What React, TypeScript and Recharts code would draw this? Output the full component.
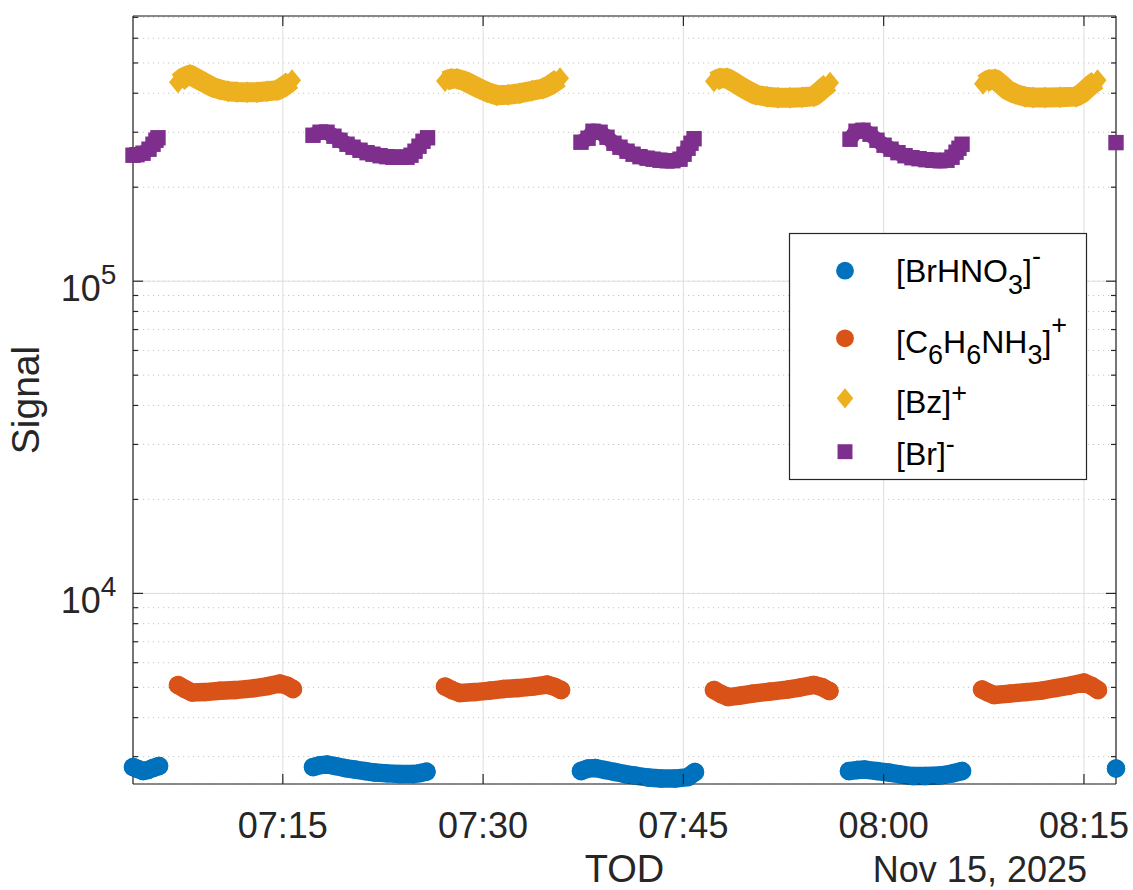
import React from 'react';
import { ComposedChart, Line, XAxis, YAxis, CartesianGrid, Legend } from 'recharts';

// Time of day in minutes after 07:00, signal in counts. Nov 15, 2025.
const brHNO3Segments: [number, number][][] = [
  [[3.78, 2778], [4.15, 2738], [4.53, 2698], [4.9, 2718], [5.28, 2758], [5.73, 2799]],
  [[17.26, 2778], [17.79, 2819], [18.31, 2830], [18.91, 2799], [19.66, 2758], [20.41, 2728], [21.16, 2698], [21.9, 2668], [22.8, 2652], [23.78, 2639], [24.75, 2639], [25.28, 2658], [25.76, 2684]],
  [[37.33, 2698], [37.86, 2748], [38.38, 2758], [39.13, 2718], [39.88, 2678], [40.63, 2639], [41.38, 2610], [42.35, 2572], [43.32, 2553], [44.37, 2553], [45.35, 2581], [45.87, 2678]],
  [[57.4, 2698], [58.0, 2718], [58.6, 2728], [59.5, 2698], [60.4, 2668], [61.3, 2629], [62.2, 2600], [63.1, 2600], [64.22, 2610], [65.12, 2649], [65.87, 2698]],
  [[77.4, 2748]],
];

const anilineSegments: [number, number][][] = [
  [[7.15, 5086], [7.67, 4939], [8.2, 4814], [9.17, 4831], [10.3, 4878], [11.42, 4903], [12.77, 4965], [13.89, 5049], [14.79, 5143], [15.31, 5067], [15.76, 4939]],
  [[27.15, 5030], [27.67, 4903], [28.27, 4796], [29.39, 4831], [30.52, 4885], [31.49, 4939], [32.61, 4976], [33.74, 5030], [34.79, 5105], [35.31, 5030], [35.84, 4903]],
  [[47.29, 4903], [47.82, 4761], [48.34, 4657], [49.24, 4708], [50.21, 4778], [51.49, 4849], [52.76, 4917], [53.73, 4994], [54.78, 5094], [55.38, 5012], [55.94, 4867]],
  [[67.37, 4921], [67.82, 4814], [68.26, 4726], [69.46, 4778], [70.66, 4831], [71.86, 4885], [72.91, 4976], [73.96, 5067], [75.01, 5181], [75.53, 5067], [76.05, 4903]],
];

const benzeneSegments: [number, number][][] = [
  [[7.15, 433800], [7.6, 450000], [8.05, 458400], [8.65, 443400], [9.25, 429600], [9.77, 418100], [10.3, 411100], [10.9, 406000], [11.57, 403900], [12.32, 403000], [13.07, 403000], [13.82, 406000], [14.57, 409000], [14.94, 416600], [15.31, 427400], [15.69, 440200]],
  [[27.15, 437900], [27.6, 445000], [28.05, 445000], [28.65, 436900], [29.24, 424300], [29.77, 413500], [30.29, 403900], [31.04, 394200], [31.87, 395600], [32.76, 400000], [33.66, 407500], [34.49, 414100], [35.01, 424300], [35.39, 435400], [35.76, 446700]],
  [[47.29, 436900], [47.74, 446700], [48.27, 446700], [48.79, 433800], [49.39, 418100], [49.92, 406000], [50.44, 395600], [51.26, 389800], [52.09, 387000], [52.99, 387000], [53.89, 388400], [54.78, 391300], [55.16, 403000], [55.53, 416600], [55.98, 432200]],
  [[67.44, 428700], [67.89, 441800], [68.34, 443400], [68.79, 427400], [69.24, 410500], [69.84, 398500], [70.59, 389800], [71.19, 387600], [72.08, 387600], [73.21, 388400], [74.41, 390100], [74.86, 400000], [75.23, 413500], [75.6, 427400], [76.02, 440200]],
];

const bromideSegments: [number, number][][] = [
  [[3.78, 253200], [4.08, 254200], [4.53, 257000], [4.98, 264700], [5.28, 274600], [5.5, 282800], [5.65, 288000]],
  [[17.26, 293400], [17.79, 300000], [18.31, 300000], [18.83, 291300], [19.28, 282800], [19.81, 274600], [20.26, 268600], [20.78, 262700], [21.31, 258000], [21.75, 255100], [22.28, 252300], [22.8, 250500], [23.25, 249500], [23.78, 249500], [24.3, 249500], [24.6, 253200], [24.9, 260800], [25.2, 270600], [25.5, 280700], [25.84, 288000]],
  [[37.33, 278700], [37.86, 287000], [38.23, 302200], [38.76, 300000], [39.28, 289100], [39.8, 276600], [40.25, 268600], [40.78, 260800], [41.23, 255100], [41.75, 250500], [42.28, 247700], [42.73, 245900], [43.25, 244000], [43.77, 243200], [44.22, 243200], [44.75, 245900], [45.05, 255100], [45.35, 266600], [45.57, 276600], [45.8, 286000]],
  [[57.48, 284900], [57.93, 302200], [58.45, 304400], [58.98, 295600], [59.5, 282800], [60.03, 272600], [60.55, 264700], [61.07, 258000], [61.6, 252300], [62.12, 248600], [62.65, 246800], [63.17, 245000], [63.7, 244000], [64.22, 243200], [64.74, 244000], [65.12, 249500], [65.42, 258900], [65.64, 266600], [65.87, 274600]],
  [[77.4, 277900]],
];

const xDomain: [number, number] = [3.78, 77.4];
const yDomain: [number, number] = [2452, 707000];
const xTicks = [15, 30, 45, 60, 75];
const yMajorTicks = [10000, 100000];
const yMinorTicks = [3000, 4000, 5000, 6000, 7000, 8000, 9000, 20000, 30000, 40000, 50000, 60000, 70000, 80000, 90000, 200000, 300000, 400000, 500000, 600000, 700000];
const yAllTicks = [...yMinorTicks, ...yMajorTicks].sort((a, b) => a - b);
const xLabel = 'TOD';
const dateLabel = 'Nov 15, 2025';
const yLabel = 'Signal';

const FONT = "'Liberation Sans', Arial, Helvetica, sans-serif";
const AX = '#262626';
const C_BLUE = '#0072BD';
const C_ORANGE = '#D95319';
const C_YELLOW = '#EDB120';
const C_PURPLE = '#7E2F8E';

const toLineData = (segs: [number, number][][]) => {
  const out: { t: number; v: number | null }[] = [];
  segs.forEach((seg, i) => {
    if (i > 0) {
      const prev = segs[i - 1];
      out.push({ t: (prev[prev.length - 1][0] + seg[0][0]) / 2, v: null });
    }
    seg.forEach(([t, v]) => out.push({ t, v }));
  });
  return out;
};

const fmtTOD = (m: number) => {
  const h = 7 + Math.floor(m / 60);
  const mm = Math.round(m % 60);
  return `${String(h).padStart(2, '0')}:${String(mm).padStart(2, '0')}`;
};

type Shape = 'circle' | 'square' | 'diamond';

const drawMarker = (shape: Shape, cx: number, cy: number, color: string, key?: string, scale = 1) => {
  if (shape === 'circle') return <circle key={key} cx={cx} cy={cy} r={9.2 * scale} fill={color} />;
  if (shape === 'square') {
    const h = 7.7 * scale;
    return <rect key={key} x={cx - h} y={cy - h} width={2 * h} height={2 * h} fill={color} />;
  }
  const hh = 11 * scale;
  const hw = 9 * scale;
  return (
    <polygon
      key={key}
      points={`${cx},${cy - hh} ${cx + hw},${cy} ${cx},${cy + hh} ${cx - hw},${cy}`}
      fill={color}
    />
  );
};

const makeDot = (shape: Shape, color: string) => (p: any) => {
  const { cx, cy, index } = p;
  if (cx == null || cy == null || Number.isNaN(cx) || Number.isNaN(cy)) return <g key={`e-${index}`} />;
  return drawMarker(shape, cx, cy, color, `d-${index}`);
};

const LeftTick = (props: any) => {
  const { x, y, payload } = props;
  const v = payload.value;
  const major = yMajorTicks.includes(v);
  const exp = Math.round(Math.log10(v));
  return (
    <g>
      <line x1={x} y1={y} x2={x + (major ? 10 : 5)} y2={y} stroke={AX} strokeWidth={1.2} />
      {major && (
        <g fontFamily={FONT} fill={AX}>
          <text x={x - 32.3} y={y + 19.5} fontSize={36} textAnchor="end">10</text>
          <text x={x - 32.3} y={y + 3} fontSize={28} textAnchor="start">{exp}</text>
        </g>
      )}
    </g>
  );
};

const RightTick = (props: any) => {
  const { x, y, payload } = props;
  const major = yMajorTicks.includes(payload.value);
  return <line x1={x} y1={y} x2={x - (major ? 10 : 5)} y2={y} stroke={AX} strokeWidth={1.2} />;
};

const BottomTick = (props: any) => {
  const { x, y, payload } = props;
  return (
    <g>
      <line x1={x} y1={y} x2={x} y2={y - 10} stroke={AX} strokeWidth={1.2} />
      <text x={x} y={y + 53.5} textAnchor="middle" fontSize={36} fontFamily={FONT} fill={AX}>
        {fmtTOD(payload.value)}
      </text>
    </g>
  );
};

const TopTick = (props: any) => {
  const { x, y } = props;
  return <line x1={x} y1={y} x2={x} y2={y + 10} stroke={AX} strokeWidth={1.2} />;
};

const XTitle = (props: any) => {
  const vb = props.viewBox || { x: 133, y: 784, width: 983, height: 106 };
  return (
    <g fontFamily={FONT} fill={AX}>
      <text x={vb.x + vb.width / 2} y={vb.y + 98} textAnchor="middle" fontSize={38}>{xLabel}</text>
      <text x={vb.x + vb.width - 29} y={vb.y + 98} textAnchor="end" fontSize={36}>{dateLabel}</text>
    </g>
  );
};

const YTitle = (props: any) => {
  const vb = props.viewBox || { x: 0, y: 16, width: 133, height: 768 };
  const cx = 39;
  const cy = vb.y + vb.height / 2;
  return (
    <text
      x={cx}
      y={cy}
      textAnchor="middle"
      fontSize={39}
      fontFamily={FONT}
      fill={AX}
      transform={`rotate(-90, ${cx}, ${cy})`}
    >
      {yLabel}
    </text>
  );
};

const LegendContent = () => {
  const mx = 56;
  const tx = 107;
  const main = 32;
  const sub = 27;
  return (
    <svg width={299} height={248} style={{ display: 'block', overflow: 'visible' }}>
      <rect x={0.5} y={0.5} width={297} height={246} fill="#ffffff" stroke={AX} strokeWidth={1.2} />
      {drawMarker('circle', mx, 37.7, C_BLUE, 'l1', 0.97)}
      {drawMarker('circle', mx, 105.3, C_ORANGE, 'l2', 0.97)}
      {drawMarker('diamond', mx, 165.3, C_YELLOW, 'l3', 0.92)}
      {drawMarker('square', mx, 218.7, C_PURPLE, 'l4', 0.97)}
      <g fontFamily={FONT} fill="#000000" fontSize={main}>
        <text x={tx} y={49}>
          [BrHNO<tspan fontSize={sub} dy={12}>3</tspan><tspan dy={-12}>]</tspan><tspan fontSize={sub} dy={-17}>-</tspan>
        </text>
        <text x={tx} y={120}>
          [C<tspan fontSize={sub} dy={11}>6</tspan><tspan dy={-11}>H</tspan><tspan fontSize={sub} dy={11}>6</tspan><tspan dy={-11}>NH</tspan><tspan fontSize={sub} dy={11}>3</tspan><tspan dy={-11}>]</tspan><tspan fontSize={sub} dy={-19}>+</tspan>
        </text>
        <text x={tx} y={180}>
          [Bz]<tspan fontSize={sub} dy={-11}>+</tspan>
        </text>
        <text x={tx} y={232}>
          [Br]<tspan fontSize={sub} dy={-12}>-</tspan>
        </text>
      </g>
    </svg>
  );
};

const series = [
  { name: 'BrHNO3-', segs: brHNO3Segments, color: C_BLUE, shape: 'circle' as Shape, width: 18.4, cap: 'round', join: 'round' },
  { name: 'C6H6NH3+', segs: anilineSegments, color: C_ORANGE, shape: 'circle' as Shape, width: 18.4, cap: 'round', join: 'round' },
  { name: 'Bz+', segs: benzeneSegments, color: C_YELLOW, shape: 'diamond' as Shape, width: 20, cap: 'butt', join: 'round' },
  { name: 'Br-', segs: bromideSegments, color: C_PURPLE, shape: 'square' as Shape, width: 15.4, cap: 'butt', join: 'round' },
];

export default function App() {
  return (
    <div style={{ position: 'absolute', left: 0, top: 0, width: 1133, height: 890, background: '#ffffff' }}>
      <ComposedChart width={1133} height={890} margin={{ top: 0, right: 0, bottom: 0, left: 0 }} style={{ fontFamily: FONT }}>
        <CartesianGrid vertical={false} stroke="#c6c6c6" strokeDasharray="1.2 3.8" strokeWidth={1} />
        <CartesianGrid yAxisId="major" stroke="#dedede" strokeWidth={1} />
        <XAxis
          type="number"
          dataKey="t"
          domain={xDomain}
          ticks={xTicks}
          height={106}
          tickSize={0}
          tickMargin={0}
          tick={<BottomTick />}
          axisLine={{ stroke: AX, strokeWidth: 1.2 }}
          tickLine={false}
          interval={0}
          label={<XTitle />}
        />
        <XAxis
          xAxisId="top"
          orientation="top"
          type="number"
          dataKey="t"
          domain={xDomain}
          allowDataOverflow
          ticks={xTicks}
          height={16}
          tickSize={0}
          tickMargin={0}
          tick={<TopTick />}
          axisLine={{ stroke: AX, strokeWidth: 1.2 }}
          tickLine={false}
          interval={0}
        />
        <YAxis
          type="number"
          scale="log"
          domain={yDomain}
          ticks={yAllTicks}
          width={133}
          tickSize={0}
          tickMargin={0}
          tick={<LeftTick />}
          axisLine={{ stroke: AX, strokeWidth: 1.2 }}
          tickLine={false}
          interval={0}
          label={<YTitle />}
        />
        <YAxis
          yAxisId="right"
          orientation="right"
          type="number"
          scale="log"
          domain={yDomain}
          allowDataOverflow
          ticks={yAllTicks}
          width={17}
          tickSize={0}
          tickMargin={0}
          tick={<RightTick />}
          axisLine={{ stroke: AX, strokeWidth: 1.2 }}
          tickLine={false}
          interval={0}
        />
        <YAxis
          yAxisId="major"
          hide
          type="number"
          scale="log"
          domain={yDomain}
          allowDataOverflow
          ticks={yMajorTicks}
          interval={0}
        />
        {series.map((s) => (
          <Line
            key={s.name}
            name={s.name}
            data={toLineData(s.segs)}
            dataKey="v"
            type="linear"
            stroke={s.color}
            strokeWidth={s.width}
            strokeLinecap={s.cap as any}
            strokeLinejoin={s.join as any}
            dot={makeDot(s.shape, s.color)}
            activeDot={false}
            connectNulls={false}
            isAnimationActive={false}
          />
        ))}
        <Legend
          layout="vertical"
          align="center"
          verticalAlign="middle"
          content={<LegendContent />}
          wrapperStyle={{ left: 789, top: 233, width: 299, height: 248 }}
        />
      </ComposedChart>
    </div>
  );
}
